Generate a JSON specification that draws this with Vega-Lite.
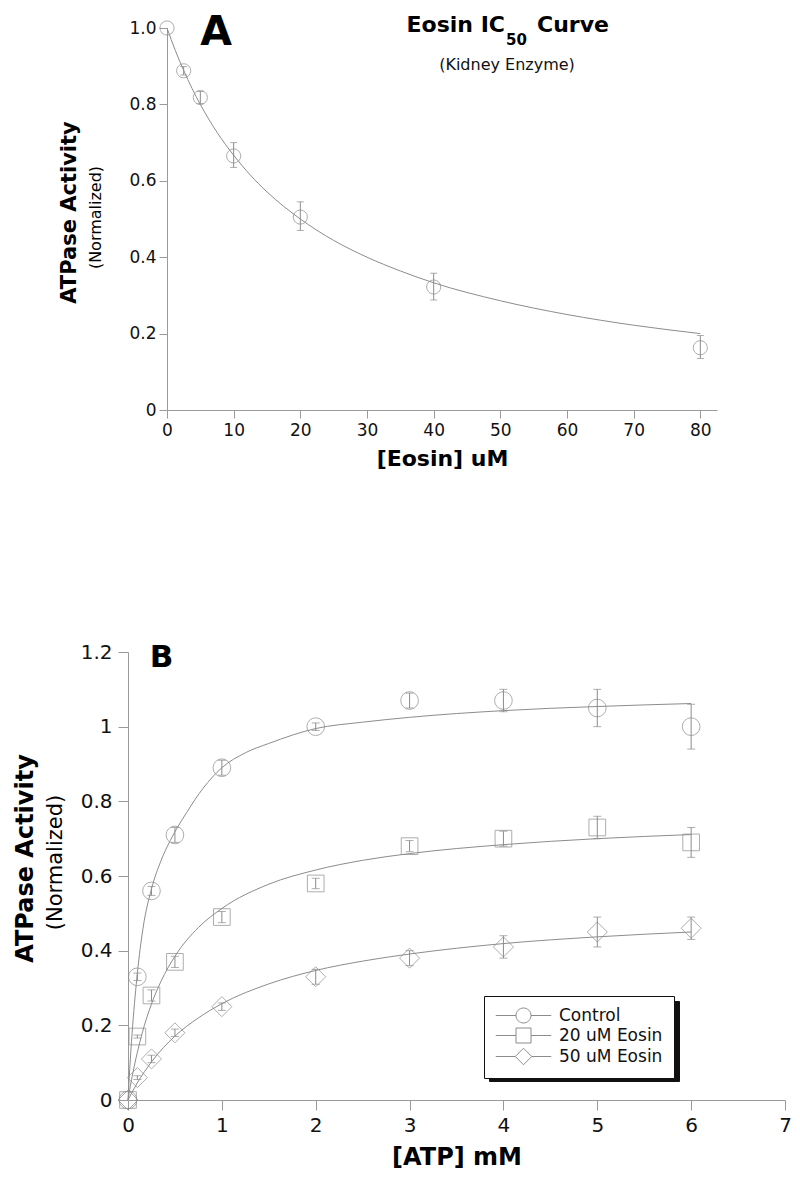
{
  "$schema": "https://vega.github.io/schema/vega-lite/v6.json",
  "width": 800,
  "height": 1185,
  "padding": 0,
  "autosize": {"type": "none"},
  "background": "white",
  "config": {
    "view": {"stroke": null},
    "axis": {"grid": false, "domainColor": "#9a9a9a", "tickColor": "#9a9a9a", "labelColor": "#111", "labelFont": "DejaVu Sans", "titleFont": "DejaVu Sans", "titleColor": "#000", "labelFlush": false, "labelOverlap": false}
  },
  "datasets": {
    "aPoints": [
      {"x": 0, "y": 1.0, "lo": null, "hi": null},
      {"x": 2.5, "y": 0.888, "lo": 0.877, "hi": 0.899},
      {"x": 5, "y": 0.818, "lo": 0.802, "hi": 0.834},
      {"x": 10, "y": 0.665, "lo": 0.635, "hi": 0.7},
      {"x": 20, "y": 0.505, "lo": 0.47, "hi": 0.545},
      {"x": 40, "y": 0.322, "lo": 0.288, "hi": 0.358},
      {"x": 80, "y": 0.163, "lo": 0.135, "hi": 0.195}
    ],
    "aCurve": [
      {"x": 0, "y": 1.0}, {"x": 1.25, "y": 0.941}, {"x": 2.5, "y": 0.889}, {"x": 3.75, "y": 0.842},
      {"x": 5, "y": 0.8}, {"x": 7.5, "y": 0.727}, {"x": 10, "y": 0.667}, {"x": 12.5, "y": 0.615},
      {"x": 15, "y": 0.571}, {"x": 20, "y": 0.5}, {"x": 25, "y": 0.444}, {"x": 30, "y": 0.4},
      {"x": 35, "y": 0.364}, {"x": 40, "y": 0.333}, {"x": 50, "y": 0.286}, {"x": 60, "y": 0.25},
      {"x": 70, "y": 0.222}, {"x": 80, "y": 0.2}
    ],
    "bPoints": [
      {"series": "Control", "x": 0, "y": 0, "lo": null, "hi": null},
      {"series": "Control", "x": 0.1, "y": 0.33, "lo": 0.32, "hi": 0.34},
      {"series": "Control", "x": 0.25, "y": 0.56, "lo": 0.548, "hi": 0.572},
      {"series": "Control", "x": 0.5, "y": 0.71, "lo": 0.69, "hi": 0.73},
      {"series": "Control", "x": 1, "y": 0.89, "lo": 0.87, "hi": 0.91},
      {"series": "Control", "x": 2, "y": 1.0, "lo": 0.99, "hi": 1.01},
      {"series": "Control", "x": 3, "y": 1.07, "lo": 1.05, "hi": 1.09},
      {"series": "Control", "x": 4, "y": 1.07, "lo": 1.04, "hi": 1.1},
      {"series": "Control", "x": 5, "y": 1.05, "lo": 1.0, "hi": 1.1},
      {"series": "Control", "x": 6, "y": 1.0, "lo": 0.94, "hi": 1.06},
      {"series": "20 uM Eosin", "x": 0, "y": 0, "lo": null, "hi": null},
      {"series": "20 uM Eosin", "x": 0.1, "y": 0.17, "lo": 0.166, "hi": 0.174},
      {"series": "20 uM Eosin", "x": 0.25, "y": 0.28, "lo": 0.265, "hi": 0.295},
      {"series": "20 uM Eosin", "x": 0.5, "y": 0.37, "lo": 0.355, "hi": 0.385},
      {"series": "20 uM Eosin", "x": 1, "y": 0.49, "lo": 0.475, "hi": 0.505},
      {"series": "20 uM Eosin", "x": 2, "y": 0.58, "lo": 0.566, "hi": 0.594},
      {"series": "20 uM Eosin", "x": 3, "y": 0.68, "lo": 0.665, "hi": 0.695},
      {"series": "20 uM Eosin", "x": 4, "y": 0.7, "lo": 0.68, "hi": 0.72},
      {"series": "20 uM Eosin", "x": 5, "y": 0.73, "lo": 0.7, "hi": 0.76},
      {"series": "20 uM Eosin", "x": 6, "y": 0.69, "lo": 0.65, "hi": 0.73},
      {"series": "50 uM Eosin", "x": 0, "y": 0, "lo": null, "hi": null},
      {"series": "50 uM Eosin", "x": 0.1, "y": 0.06, "lo": 0.055, "hi": 0.065},
      {"series": "50 uM Eosin", "x": 0.25, "y": 0.11, "lo": 0.1, "hi": 0.12},
      {"series": "50 uM Eosin", "x": 0.5, "y": 0.18, "lo": 0.17, "hi": 0.19},
      {"series": "50 uM Eosin", "x": 1, "y": 0.25, "lo": 0.24, "hi": 0.26},
      {"series": "50 uM Eosin", "x": 2, "y": 0.33, "lo": 0.31, "hi": 0.35},
      {"series": "50 uM Eosin", "x": 3, "y": 0.38, "lo": 0.36, "hi": 0.4},
      {"series": "50 uM Eosin", "x": 4, "y": 0.41, "lo": 0.38, "hi": 0.44},
      {"series": "50 uM Eosin", "x": 5, "y": 0.45, "lo": 0.41, "hi": 0.49},
      {"series": "50 uM Eosin", "x": 6, "y": 0.46, "lo": 0.43, "hi": 0.49}
    ],
    "bCurve": [
      {"fit": "Control fit", "x": 0, "y": 0}, {"fit": "Control fit", "x": 0.025, "y": 0.11},
      {"fit": "Control fit", "x": 0.05, "y": 0.2}, {"fit": "Control fit", "x": 0.1, "y": 0.34},
      {"fit": "Control fit", "x": 0.16, "y": 0.46}, {"fit": "Control fit", "x": 0.25, "y": 0.565},
      {"fit": "Control fit", "x": 0.35, "y": 0.64}, {"fit": "Control fit", "x": 0.45, "y": 0.695},
      {"fit": "Control fit", "x": 0.625, "y": 0.77}, {"fit": "Control fit", "x": 0.8, "y": 0.835},
      {"fit": "Control fit", "x": 1, "y": 0.89}, {"fit": "Control fit", "x": 1.25, "y": 0.93},
      {"fit": "Control fit", "x": 1.5, "y": 0.955}, {"fit": "Control fit", "x": 2, "y": 0.995},
      {"fit": "Control fit", "x": 2.5, "y": 1.012}, {"fit": "Control fit", "x": 3, "y": 1.025},
      {"fit": "Control fit", "x": 4, "y": 1.043}, {"fit": "Control fit", "x": 5, "y": 1.054},
      {"fit": "Control fit", "x": 6, "y": 1.062},
      {"fit": "20 uM Eosin fit", "x": 0, "y": 0}, {"fit": "20 uM Eosin fit", "x": 0.025, "y": 0.037},
      {"fit": "20 uM Eosin fit", "x": 0.05, "y": 0.07}, {"fit": "20 uM Eosin fit", "x": 0.1, "y": 0.128},
      {"fit": "20 uM Eosin fit", "x": 0.15, "y": 0.178}, {"fit": "20 uM Eosin fit", "x": 0.25, "y": 0.257},
      {"fit": "20 uM Eosin fit", "x": 0.35, "y": 0.317}, {"fit": "20 uM Eosin fit", "x": 0.5, "y": 0.385},
      {"fit": "20 uM Eosin fit", "x": 0.75, "y": 0.462}, {"fit": "20 uM Eosin fit", "x": 1, "y": 0.513},
      {"fit": "20 uM Eosin fit", "x": 1.5, "y": 0.578}, {"fit": "20 uM Eosin fit", "x": 2, "y": 0.616},
      {"fit": "20 uM Eosin fit", "x": 2.5, "y": 0.642}, {"fit": "20 uM Eosin fit", "x": 3, "y": 0.66},
      {"fit": "20 uM Eosin fit", "x": 4, "y": 0.684}, {"fit": "20 uM Eosin fit", "x": 5, "y": 0.7},
      {"fit": "20 uM Eosin fit", "x": 6, "y": 0.711},
      {"fit": "50 uM Eosin fit", "x": 0, "y": 0}, {"fit": "50 uM Eosin fit", "x": 0.05, "y": 0.024},
      {"fit": "50 uM Eosin fit", "x": 0.1, "y": 0.046}, {"fit": "50 uM Eosin fit", "x": 0.25, "y": 0.102},
      {"fit": "50 uM Eosin fit", "x": 0.5, "y": 0.171}, {"fit": "50 uM Eosin fit", "x": 0.75, "y": 0.22},
      {"fit": "50 uM Eosin fit", "x": 1, "y": 0.258}, {"fit": "50 uM Eosin fit", "x": 1.5, "y": 0.311},
      {"fit": "50 uM Eosin fit", "x": 2, "y": 0.347}, {"fit": "50 uM Eosin fit", "x": 2.5, "y": 0.372},
      {"fit": "50 uM Eosin fit", "x": 3, "y": 0.391}, {"fit": "50 uM Eosin fit", "x": 4, "y": 0.419},
      {"fit": "50 uM Eosin fit", "x": 5, "y": 0.437}, {"fit": "50 uM Eosin fit", "x": 6, "y": 0.45}
    ]
  },
  "layer": [
    {
      "layer": [
        {
          "data": {"name": "aPoints"},
          "mark": {"type": "rule", "color": "#8c8c8c", "strokeWidth": 1},
          "encoding": {
            "x": {"field": "x", "type": "quantitative", "axis": null, "scale": {"domain": [0, 82.5], "range": [167, 717], "nice": false, "zero": false}},
            "y": {"field": "lo", "type": "quantitative", "axis": null, "scale": {"domain": [0, 1], "range": [410, 28], "nice": false, "zero": false}},
            "y2": {"field": "hi"}
          }
        },
        {
          "data": {"name": "aPoints"},
          "mark": {"type": "tick", "orient": "horizontal", "size": 7, "thickness": 1, "color": "#8c8c8c"},
          "encoding": {
            "x": {"field": "x", "type": "quantitative", "axis": null, "scale": {"domain": [0, 82.5], "range": [167, 717], "nice": false, "zero": false}},
            "y": {"field": "lo", "type": "quantitative", "axis": null, "scale": {"domain": [0, 1], "range": [410, 28], "nice": false, "zero": false}}
          }
        },
        {
          "data": {"name": "aPoints"},
          "mark": {"type": "tick", "orient": "horizontal", "size": 7, "thickness": 1, "color": "#8c8c8c"},
          "encoding": {
            "x": {"field": "x", "type": "quantitative", "axis": null, "scale": {"domain": [0, 82.5], "range": [167, 717], "nice": false, "zero": false}},
            "y": {"field": "hi", "type": "quantitative", "axis": null, "scale": {"domain": [0, 1], "range": [410, 28], "nice": false, "zero": false}}
          }
        },
        {
          "data": {"name": "aCurve"},
          "mark": {"type": "line", "color": "#8c8c8c", "strokeWidth": 1, "interpolate": "monotone"},
          "encoding": {
            "x": {"field": "x", "type": "quantitative", "axis": null, "scale": {"domain": [0, 82.5], "range": [167, 717], "nice": false, "zero": false}},
            "y": {"field": "y", "type": "quantitative", "scale": {"domain": [0, 1], "range": [410, 28], "nice": false, "zero": false},
              "axis": {"orient": "left", "offset": -167, "labels": false, "ticks": false, "domain": false, "title": "(Normalized)", "titleFontSize": 16, "titleFontWeight": "normal", "titleX": -72, "titleY": 217, "titleAngle": 270, "titleAlign": "center", "titleBaseline": "middle"}}
          }
        },
        {
          "data": {"name": "aPoints"},
          "mark": {"type": "point", "filled": false, "color": "#8c8c8c", "strokeWidth": 1, "size": 200, "shape": "circle"},
          "encoding": {
            "x": {"field": "x", "type": "quantitative", "scale": {"domain": [0, 82.5], "range": [167, 717], "nice": false, "zero": false},
              "axis": {"orient": "bottom", "offset": -775, "values": [0, 10, 20, 30, 40, 50, 60, 70, 80], "labelFontSize": 17, "tickSize": 8, "labelPadding": 4, "title": "[Eosin] uM", "titleFontSize": 22, "titleFontWeight": "bold", "titlePadding": 10}},
            "y": {"field": "y", "type": "quantitative", "scale": {"domain": [0, 1], "range": [410, 28], "nice": false, "zero": false},
              "axis": {"orient": "left", "offset": -167, "values": [0, 0.2, 0.4, 0.6, 0.8, 1.0], "labelExpr": "datum.value == 0 ? '0' : format(datum.value, '.1f')", "labelFontSize": 17, "tickSize": 8, "labelPadding": 3, "title": "ATPase Activity", "titleFontSize": 21, "titleFontWeight": "bold", "titleX": -98, "titleY": 212, "titleAngle": 270, "titleAlign": "center", "titleBaseline": "middle"}}
          }
        },
        {
          "data": {"values": [{"t": "A"}]},
          "mark": {"type": "text", "font": "DejaVu Sans", "fontWeight": "bold", "fontSize": 41, "align": "center", "baseline": "alphabetic", "color": "#000"},
          "encoding": {
            "text": {"field": "t"},
            "x": {"datum": 7.35, "type": "quantitative", "axis": null, "scale": {"domain": [0, 82.5], "range": [167, 717], "nice": false, "zero": false}},
            "y": {"datum": 0.9555, "type": "quantitative", "axis": null, "scale": {"domain": [0, 1], "range": [410, 28], "nice": false, "zero": false}}
          }
        },
        {
          "data": {"values": [{"t": "Eosin IC"}]},
          "mark": {"type": "text", "font": "DejaVu Sans", "fontWeight": "bold", "fontSize": 22, "align": "right", "baseline": "alphabetic", "color": "#000"},
          "encoding": {
            "text": {"field": "t"},
            "x": {"datum": 50.7, "type": "quantitative", "axis": null, "scale": {"domain": [0, 82.5], "range": [167, 717], "nice": false, "zero": false}},
            "y": {"datum": 0.9895, "type": "quantitative", "axis": null, "scale": {"domain": [0, 1], "range": [410, 28], "nice": false, "zero": false}}
          }
        },
        {
          "data": {"values": [{"t": "50"}]},
          "mark": {"type": "text", "font": "DejaVu Sans", "fontWeight": "bold", "fontSize": 15, "align": "left", "baseline": "alphabetic", "color": "#000"},
          "encoding": {
            "text": {"field": "t"},
            "x": {"datum": 50.85, "type": "quantitative", "axis": null, "scale": {"domain": [0, 82.5], "range": [167, 717], "nice": false, "zero": false}},
            "y": {"datum": 0.9555, "type": "quantitative", "axis": null, "scale": {"domain": [0, 1], "range": [410, 28], "nice": false, "zero": false}}
          }
        },
        {
          "data": {"values": [{"t": "Curve"}]},
          "mark": {"type": "text", "font": "DejaVu Sans", "fontWeight": "bold", "fontSize": 22, "align": "left", "baseline": "alphabetic", "color": "#000"},
          "encoding": {
            "text": {"field": "t"},
            "x": {"datum": 55.5, "type": "quantitative", "axis": null, "scale": {"domain": [0, 82.5], "range": [167, 717], "nice": false, "zero": false}},
            "y": {"datum": 0.9895, "type": "quantitative", "axis": null, "scale": {"domain": [0, 1], "range": [410, 28], "nice": false, "zero": false}}
          }
        },
        {
          "data": {"values": [{"t": "(Kidney Enzyme)"}]},
          "mark": {"type": "text", "font": "DejaVu Sans", "fontSize": 16, "align": "center", "baseline": "alphabetic", "color": "#111"},
          "encoding": {
            "text": {"field": "t"},
            "x": {"datum": 51.0, "type": "quantitative", "axis": null, "scale": {"domain": [0, 82.5], "range": [167, 717], "nice": false, "zero": false}},
            "y": {"datum": 0.89, "type": "quantitative", "axis": null, "scale": {"domain": [0, 1], "range": [410, 28], "nice": false, "zero": false}}
          }
        }
      ],
      "resolve": {"axis": {"x": "independent", "y": "independent"}}
    },
    {
      "layer": [
        {
          "data": {"name": "bPoints"},
          "mark": {"type": "rule", "color": "#8c8c8c", "strokeWidth": 1},
          "encoding": {
            "x": {"field": "x", "type": "quantitative", "axis": null, "scale": {"domain": [0, 7], "range": [128, 785], "nice": false, "zero": false}},
            "y": {"field": "lo", "type": "quantitative", "axis": null, "scale": {"domain": [0, 1.2], "range": [1100, 652], "nice": false, "zero": false}},
            "y2": {"field": "hi"}
          }
        },
        {
          "data": {"name": "bPoints"},
          "mark": {"type": "tick", "orient": "horizontal", "size": 8, "thickness": 1, "color": "#8c8c8c"},
          "encoding": {
            "x": {"field": "x", "type": "quantitative", "axis": null, "scale": {"domain": [0, 7], "range": [128, 785], "nice": false, "zero": false}},
            "y": {"field": "lo", "type": "quantitative", "axis": null, "scale": {"domain": [0, 1.2], "range": [1100, 652], "nice": false, "zero": false}}
          }
        },
        {
          "data": {"name": "bPoints"},
          "mark": {"type": "tick", "orient": "horizontal", "size": 8, "thickness": 1, "color": "#8c8c8c"},
          "encoding": {
            "x": {"field": "x", "type": "quantitative", "axis": null, "scale": {"domain": [0, 7], "range": [128, 785], "nice": false, "zero": false}},
            "y": {"field": "hi", "type": "quantitative", "axis": null, "scale": {"domain": [0, 1.2], "range": [1100, 652], "nice": false, "zero": false}}
          }
        },
        {
          "data": {"name": "bCurve"},
          "mark": {"type": "line", "strokeWidth": 1, "interpolate": "monotone"},
          "encoding": {
            "x": {"field": "x", "type": "quantitative", "axis": null, "scale": {"domain": [0, 7], "range": [128, 785], "nice": false, "zero": false}},
            "y": {"field": "y", "type": "quantitative", "scale": {"domain": [0, 1.2], "range": [1100, 652], "nice": false, "zero": false},
              "axis": {"orient": "left", "offset": -128, "labels": false, "ticks": false, "domain": false, "title": "(Normalized)", "titleFontSize": 21, "titleFontWeight": "normal", "titleX": -73, "titleY": 862, "titleAngle": 270, "titleAlign": "center", "titleBaseline": "middle"}},
            "color": {"field": "fit", "type": "nominal",
              "scale": {"domain": ["Control fit", "20 uM Eosin fit", "50 uM Eosin fit"], "range": ["#8c8c8c", "#8c8c8c", "#8c8c8c"]},
              "legend": {"orient": "none", "legendX": 489, "legendY": 1001, "title": null, "fillColor": "#111", "strokeColor": "#111", "padding": 11, "symbolType": "square", "symbolSize": 225, "symbolStrokeWidth": 1, "symbolOffset": 150, "labelOffset": 0, "labelFontSize": 17, "labelColor": "#111", "rowPadding": 1, "labelExpr": "''"}}
          }
        },
        {
          "data": {"name": "bPoints"},
          "mark": {"type": "point", "filled": false, "color": "#8c8c8c", "strokeWidth": 1, "opacity": 0},
          "encoding": {
            "x": {"field": "x", "type": "quantitative", "axis": null, "scale": {"domain": [0, 7], "range": [128, 785], "nice": false, "zero": false}},
            "y": {"field": "y", "type": "quantitative", "axis": null, "scale": {"domain": [0, 1.2], "range": [1100, 652], "nice": false, "zero": false}},
            "shape": {"field": "series", "type": "nominal",
              "scale": {"domain": ["Control", "20 uM Eosin", "50 uM Eosin"], "range": ["M-3.7,0H-1M1,0H3.7M1,0A1,1,0,1,1,-1,0A1,1,0,1,1,1,0", "M-3.7,0H-1M1,0H3.7M-1,-1H1V1H-1Z", "M-3.7,0H-1.1M1.1,0H3.7M0,-1.1L1.1,0L0,1.1L-1.1,0Z"]},
              "legend": {"orient": "none", "legendX": 484, "legendY": 996, "title": null, "fillColor": "white", "strokeColor": "#111", "padding": 11, "symbolSize": 225, "symbolStrokeWidth": 1, "symbolStrokeColor": "#8c8c8c", "symbolFillColor": "transparent", "symbolOpacity": 1, "symbolOffset": 20, "labelOffset": 27, "labelFont": "DejaVu Sans", "labelFontSize": 17, "labelColor": "#111", "rowPadding": 1,
                "encode": {"legend": {"strokeWidth": {"value": 1.5}}}}}
          }
        },
        {
          "data": {"name": "bPoints"},
          "transform": [{"filter": "datum.series === 'Control'"}],
          "mark": {"type": "point", "filled": false, "color": "#8c8c8c", "strokeWidth": 1, "size": 313, "shape": "circle"},
          "encoding": {
            "x": {"field": "x", "type": "quantitative", "scale": {"domain": [0, 7], "range": [128, 785], "nice": false, "zero": false},
              "axis": {"orient": "bottom", "offset": -85, "values": [0, 1, 2, 3, 4, 5, 6, 7], "labelFontSize": 20, "tickSize": 10, "labelPadding": 5, "title": "[ATP] mM", "titleFontSize": 24, "titleFontWeight": "bold", "titlePadding": 10}},
            "y": {"field": "y", "type": "quantitative", "scale": {"domain": [0, 1.2], "range": [1100, 652], "nice": false, "zero": false},
              "axis": {"orient": "left", "offset": -128, "values": [0, 0.2, 0.4, 0.6, 0.8, 1, 1.2], "labelExpr": "format(datum.value, '~g')", "labelFontSize": 20, "tickSize": 10, "labelPadding": 6, "title": "ATPase Activity", "titleFontSize": 24, "titleFontWeight": "bold", "titleX": -103, "titleY": 858, "titleAngle": 270, "titleAlign": "center", "titleBaseline": "middle"}}
          }
        },
        {
          "data": {"name": "bPoints"},
          "transform": [{"filter": "datum.series === '20 uM Eosin'"}],
          "mark": {"type": "point", "filled": false, "color": "#8c8c8c", "strokeWidth": 1, "size": 278, "shape": "square"},
          "encoding": {
            "x": {"field": "x", "type": "quantitative", "axis": null, "scale": {"domain": [0, 7], "range": [128, 785], "nice": false, "zero": false}},
            "y": {"field": "y", "type": "quantitative", "axis": null, "scale": {"domain": [0, 1.2], "range": [1100, 652], "nice": false, "zero": false}}
          }
        },
        {
          "data": {"name": "bPoints"},
          "transform": [{"filter": "datum.series === '50 uM Eosin'"}],
          "mark": {"type": "point", "filled": false, "color": "#8c8c8c", "strokeWidth": 1, "size": 400, "shape": "diamond"},
          "encoding": {
            "x": {"field": "x", "type": "quantitative", "axis": null, "scale": {"domain": [0, 7], "range": [128, 785], "nice": false, "zero": false}},
            "y": {"field": "y", "type": "quantitative", "axis": null, "scale": {"domain": [0, 1.2], "range": [1100, 652], "nice": false, "zero": false}}
          }
        },
        {
          "data": {"values": [{"t": "B"}]},
          "mark": {"type": "text", "font": "DejaVu Sans", "fontWeight": "bold", "fontSize": 31, "align": "center", "baseline": "alphabetic", "color": "#000"},
          "encoding": {
            "text": {"field": "t"},
            "x": {"datum": 0.357, "type": "quantitative", "axis": null, "scale": {"domain": [0, 7], "range": [128, 785], "nice": false, "zero": false}},
            "y": {"datum": 1.1606, "type": "quantitative", "axis": null, "scale": {"domain": [0, 1.2], "range": [1100, 652], "nice": false, "zero": false}}
          }
        }
      ],
      "resolve": {"axis": {"x": "independent", "y": "independent"}}
    }
  ],
  "resolve": {
    "scale": {"x": "independent", "y": "independent"},
    "axis": {"x": "independent", "y": "independent"}
  }
}
